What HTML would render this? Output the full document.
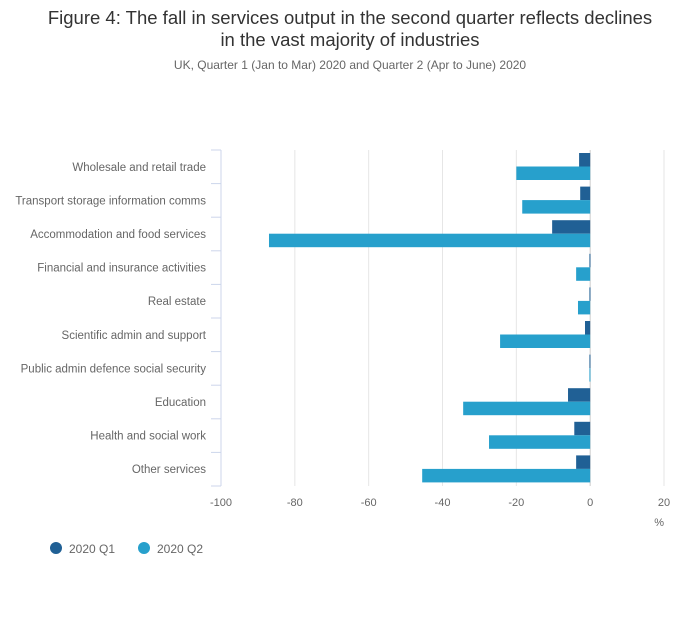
<!DOCTYPE html>
<html><head><meta charset="utf-8"><style>
body{margin:0;background:#fff;width:700px;height:635px;overflow:hidden;font-family:"Liberation Sans",sans-serif}
</style></head><body>
<svg id="chart" width="700" height="635" xmlns="http://www.w3.org/2000/svg" font-family="Liberation Sans, sans-serif">
<text x="350" y="24" text-anchor="middle" font-size="18.5" fill="#333">Figure 4: The fall in services output in the second quarter reflects declines</text>
<text x="350" y="46" text-anchor="middle" font-size="18.5" fill="#333">in the vast majority of industries</text>
<text x="350" y="69" text-anchor="middle" font-size="12" fill="#666">UK, Quarter 1 (Jan to Mar) 2020 and Quarter 2 (Apr to June) 2020</text>
<g id="grid"></g><g id="bars"></g><g id="labels"></g><g id="ticks"></g>
<text x="664" y="526" text-anchor="end" font-size="11" fill="#666">%</text>
<g>
<circle cx="56" cy="548" r="6" fill="#206095"/>
<text x="69" y="553" font-size="12" fill="#666">2020 Q1</text>
<circle cx="144" cy="548" r="6" fill="#27a0cc"/>
<text x="157" y="553" font-size="12" fill="#666">2020 Q2</text>
</g>
</svg>
<script>
const categories=["Wholesale and retail trade","Transport storage information comms","Accommodation and food services","Financial and insurance activities","Real estate","Scientific admin and support","Public admin defence social security","Education","Health and social work","Other services"];
const q1=[-3.0,-2.7,-10.3,-0.2,-0.2,-1.4,-0.2,-6.0,-4.3,-3.8];
const q2=[-20.0,-18.4,-87.0,-3.8,-3.3,-24.4,-0.2,-34.4,-27.4,-45.5];
const ticks=[-100,-80,-60,-40,-20,0,20];
const NS="http://www.w3.org/2000/svg";
const x0=221,x1=664,vmin=-100,vmax=20,plotTop=150,band=33.6;
function xs(v){return x0+(v-vmin)/(vmax-vmin)*(x1-x0);}
function mk(tag,attrs,parent){const e=document.createElementNS(NS,tag);for(const k in attrs)e.setAttribute(k,attrs[k]);document.getElementById(parent).appendChild(e);return e;}
const plotBottom=plotTop+band*categories.length;
ticks.forEach(t=>{
 const l=mk('line',{x1:xs(t),x2:xs(t),y1:plotTop,y2:plotBottom,stroke:t===0?'#ccc':'#e6e6e6','stroke-width':1},'grid');
 
 
 const tx=mk('text',{x:xs(t),y:506,'text-anchor':'middle','font-size':11,fill:'#666'},'ticks');
 tx.textContent=t;
 
 
});
const ax=mk('line',{x1:x0,x2:x0,y1:plotTop,y2:plotBottom,stroke:'#ccd6eb'},'grid');


categories.forEach((c,i)=>{
 const y=plotTop+i*band;
 const tk=mk('line',{x1:x0-10,x2:x0,y1:y,y2:y,stroke:'#ccd6eb'},'grid');
 
 
 const lb=mk('text',{x:206,y:y+band/2+4,'text-anchor':'end','font-size':11.5,fill:'#666'},'labels');
 lb.textContent=c;
 
 
 const z=xs(0);
 const b1=mk('rect',{x:Math.min(xs(q1[i]),z),y:y+3,width:Math.max(Math.abs(xs(q1[i])-z),1),height:13.5,fill:'#206095'},'bars');
 
 
 const b2=mk('rect',{x:Math.min(xs(q2[i]),z),y:y+16.5,width:Math.max(Math.abs(xs(q2[i])-z),1),height:13.5,fill:'#27a0cc'},'bars');
 
 
});
const lastTk=mk('line',{x1:x0-10,x2:x0,y1:plotBottom,y2:plotBottom,stroke:'#ccd6eb'},'grid');


</script>
</body></html>
